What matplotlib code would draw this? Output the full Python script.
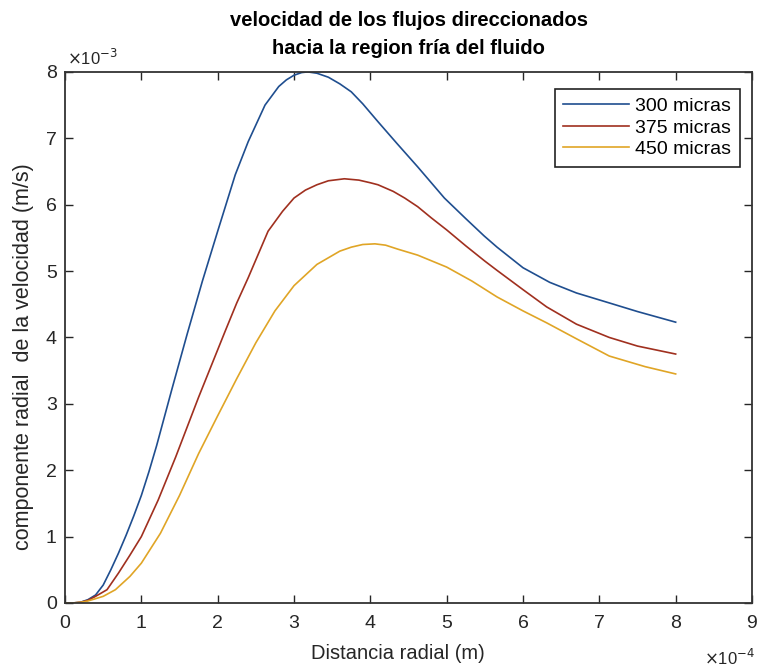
import matplotlib
matplotlib.use("Agg")
import numpy as np
import matplotlib.pyplot as plt
from matplotlib.ticker import FuncFormatter

plt.rcParams["font.family"] = ["Liberation Sans", "DejaVu Sans"]

# radial distance in units of 1e-4 m, velocity in units of 1e-3 m/s
x_300 = [0, 0.1, 0.2, 0.3, 0.4, 0.5, 0.6, 0.7, 0.8, 0.9, 1.0, 1.1, 1.2, 1.4,
         1.6, 1.8, 2.0, 2.23, 2.4, 2.62, 2.8, 2.9, 3.0, 3.1, 3.18, 3.3, 3.45,
         3.6, 3.75, 3.9, 4.1, 4.35, 4.62, 4.97, 5.25, 5.49, 5.66, 6.0, 6.35,
         6.7, 7.13, 7.5, 8.0]
v_300 = [0, 0.0, 0.01, 0.05, 0.12, 0.27, 0.5, 0.75, 1.02, 1.31, 1.62, 1.98,
         2.37, 3.22, 4.05, 4.85, 5.6, 6.45, 6.95, 7.5, 7.78, 7.88, 7.95, 7.99,
         8.0, 7.98, 7.92, 7.82, 7.7, 7.52, 7.25, 6.92, 6.57, 6.1, 5.79, 5.53,
         5.36, 5.05, 4.83, 4.67, 4.52, 4.39, 4.23]

x_375 = [0, 0.1, 0.2, 0.3, 0.4, 0.55, 0.7, 0.85, 1.0, 1.22, 1.45, 1.75, 2.1,
         2.25, 2.4, 2.66, 2.85, 3.0, 3.15, 3.3, 3.45, 3.66, 3.85, 4.0, 4.1, 4.3,
         4.45, 4.62, 4.8, 5.0, 5.25, 5.5, 5.66, 6.0, 6.31, 6.7, 7.13, 7.5, 8.0]
v_375 = [0, 0.0, 0.01, 0.04, 0.1, 0.2, 0.45, 0.72, 1.0, 1.55, 2.2, 3.1, 4.1,
         4.52, 4.9, 5.6, 5.9, 6.1, 6.22, 6.3, 6.36, 6.39, 6.37, 6.33, 6.3, 6.2,
         6.1, 5.97, 5.8, 5.62, 5.38, 5.15, 5.01, 4.72, 4.46, 4.2, 4.0, 3.87,
         3.75]

x_450 = [0, 0.1, 0.2, 0.3, 0.5, 0.66, 0.85, 1.0, 1.25, 1.5, 1.75, 2.0, 2.25,
         2.5, 2.75, 3.0, 3.3, 3.6, 3.75, 3.9, 4.06, 4.2, 4.36, 4.62, 5.0, 5.33,
         5.66, 6.0, 6.31, 6.7, 7.13, 7.6, 8.0]
v_450 = [0, 0.0, 0.01, 0.03, 0.1, 0.2, 0.4, 0.6, 1.05, 1.62, 2.25, 2.82, 3.38,
         3.92, 4.4, 4.78, 5.1, 5.3, 5.36, 5.4, 5.41, 5.39, 5.33, 5.24, 5.06,
         4.85, 4.61, 4.4, 4.22, 3.98, 3.72, 3.56, 3.45]

labels = ["300 micras", "375 micras", "450 micras"]
colors = ["#1f4e8f", "#a0301f", "#e0a526"]

fig = plt.figure(figsize=(7.65, 6.72), dpi=100)
ax = fig.add_axes([0.085, 0.1027, 0.898, 0.7903])

for xs, vs, lab, c in zip([x_300, x_375, x_450], [v_300, v_375, v_450], labels, colors):
    ax.plot(np.array(xs) * 1e-4, np.array(vs) * 1e-3, color=c, lw=1.2,
            label=lab, solid_joinstyle="round")

ax.set_xlim(0, 9e-4)
ax.set_ylim(0, 8e-3)
ax.set_xticks(np.arange(0, 10) * 1e-4)
ax.set_yticks(np.arange(0, 9) * 1e-3)
ax.xaxis.set_major_formatter(FuncFormatter(lambda v, p: f"{v / 1e-4:.0f}"))
ax.yaxis.set_major_formatter(FuncFormatter(lambda v, p: f"{v / 1e-3:.0f}"))
ax.tick_params(direction="in", length=6, width=1, top=True, right=True,
               labelsize=14, colors="#262626")
ax.tick_params(axis="x", pad=9)
ax.tick_params(axis="y", pad=6)
for s in ax.spines.values():
    s.set_color("#333333")
    s.set_linewidth(1.3)

ax.text(0.003, 1.008, r"$\times$10$^{\mathsf{-3}}$", transform=ax.transAxes,
        fontsize=12, ha="left", va="bottom", color="#262626")
ax.text(1.005, -0.085, r"$\times$10$^{\mathsf{-4}}$", transform=ax.transAxes,
        fontsize=12, ha="right", va="top", color="#262626")

ax.set_xlabel("Distancia radial (m)", fontsize=14.5, color="#262626")
ax.xaxis.set_label_coords(0.485, -0.077)
ax.set_ylabel("componente radial  de la velocidad (m/s)", fontsize=15.5,
              color="#262626")
ax.yaxis.set_label_coords(-0.045, 0.463)
ax.set_title("velocidad de los flujos direccionados\nhacia la region fría del fluido",
             fontsize=14.5, fontweight="bold", pad=13, linespacing=1.6)

leg = ax.legend(loc="upper right", bbox_to_anchor=(0.9825, 0.968), borderaxespad=0,
                fontsize=14, handlelength=3.4, labelspacing=0.2, borderpad=0.45,
                handletextpad=0.3, fancybox=False, framealpha=1)
leg.get_frame().set_edgecolor("#222222")
leg.get_frame().set_linewidth(1.2)

fig.savefig("out.png", dpi=100)
